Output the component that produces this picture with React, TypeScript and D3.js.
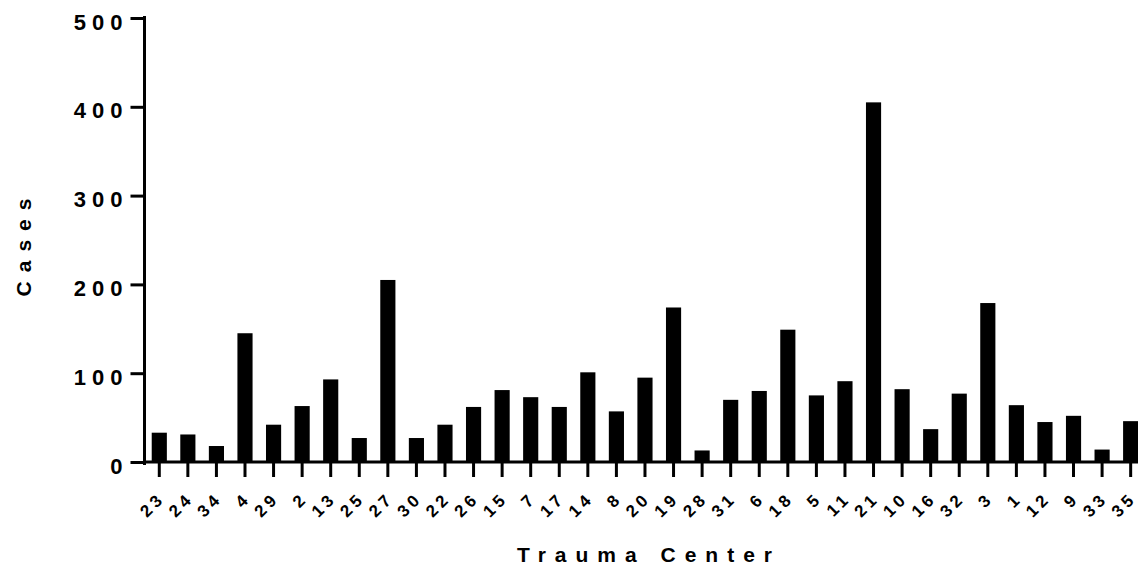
import React, { useEffect, useRef } from "react";
import * as d3 from "d3";

// trauma centers in the order shown on the x axis
const centers = ["23", "24", "34", "4", "29", "2", "13", "25", "27", "30", "22", "26", "15", "7", "17", "14", "8", "20", "19", "28", "31", "6", "18", "5", "11", "21", "10", "16", "32", "3", "1", "12", "9", "33", "35"];
const cases = [33, 31, 18, 145, 42, 63, 93, 27, 205, 27, 42, 62, 81, 73, 62, 101, 57, 95, 174, 13, 70, 80, 149, 75, 91, 405, 82, 37, 77, 179, 64, 45, 52, 14, 46];
const yTicks = [0, 100, 200, 300, 400, 500];

export default function App() {
  const ref = useRef<SVGSVGElement>(null);

  useEffect(() => {
    const width = 1138;
    const height = 571;
    const svg = d3.select(ref.current).attr("width", width).attr("height", height);
    svg.selectAll("*").remove();

    const font = "'Liberation Sans', Arial, sans-serif";

    const x = d3.scaleBand<string>()
      .domain(centers)
      .range([145, 145 + 35 * 28.57])
      .paddingInner(0.47)
      .paddingOuter(0.235);

    const y = d3.scaleLinear().domain([0, 500]).range([462, 18]);

    svg.append("g")
      .selectAll("rect")
      .data(cases)
      .enter()
      .append("rect")
      .attr("x", (d, i) => x(centers[i])!)
      .attr("y", d => y(d))
      .attr("width", x.bandwidth())
      .attr("height", d => y(0) - y(d))
      .attr("fill", "#000");

    // y axis
    const yAxis = svg.append("g").attr("transform", "translate(144.5,0)")
      .call(d3.axisLeft(y).tickValues(yTicks).tickSize(14).tickSizeOuter(0).tickFormat(d3.format("d")));
    yAxis.select(".domain").attr("stroke-width", 3).attr("d", `M0,${y(500) - 2}V${y(0) + 3}`);
    yAxis.selectAll(".tick line").attr("stroke-width", 3);
    yAxis.selectAll(".tick text")
      .attr("x", -16)
      .attr("dy", 11)
      .style("font-family", font)
      .style("font-weight", "bold")
      .style("font-size", "22px")
      .style("letter-spacing", "6px")
      .attr("fill", "#000");

    // x axis, labels drawn separately
    const xAxis = svg.append("g").attr("transform", `translate(0,${y(0)})`)
      .call(d3.axisBottom(x).tickSize(15).tickSizeOuter(0).tickFormat(() => ""));
    xAxis.select(".domain").attr("stroke-width", 3).attr("d", `M143,0H${width}`);
    xAxis.selectAll(".tick line").attr("stroke-width", 3);

    const labels = svg.append("g")
      .selectAll("text")
      .data(centers)
      .enter()
      .append("text")
      .attr("text-anchor", "end")
      .attr("transform", d => `translate(${x(d)! + x.bandwidth() / 2 + 4},${y(0) + 40}) rotate(-45)`)
      .style("font-family", font)
      .style("font-weight", "bold")
      .style("font-size", "17px")
      .attr("fill", "#000");
    // spaced digits without trailing space
    labels.selectAll("tspan")
      .data(d => d.split(""))
      .enter()
      .append("tspan")
      .attr("dx", (c, i) => (i === 0 ? 0 : 4))
      .text(c => c);

    svg.append("text")
      .attr("transform", "translate(31,243) rotate(-90)")
      .attr("text-anchor", "middle")
      .style("font-family", font)
      .style("font-weight", "bold")
      .style("font-size", "21px")
      .style("letter-spacing", "9px")
      .text("Cases");

    svg.append("text")
      .attr("x", 649)
      .attr("y", 562)
      .attr("text-anchor", "middle")
      .style("font-family", font)
      .style("font-weight", "bold")
      .style("font-size", "21px")
      .style("letter-spacing", "9px")
      .text("Trauma Center");
  }, []);

  return <svg ref={ref} style={{ position: "absolute", left: 0, top: 0 }} />;
}
